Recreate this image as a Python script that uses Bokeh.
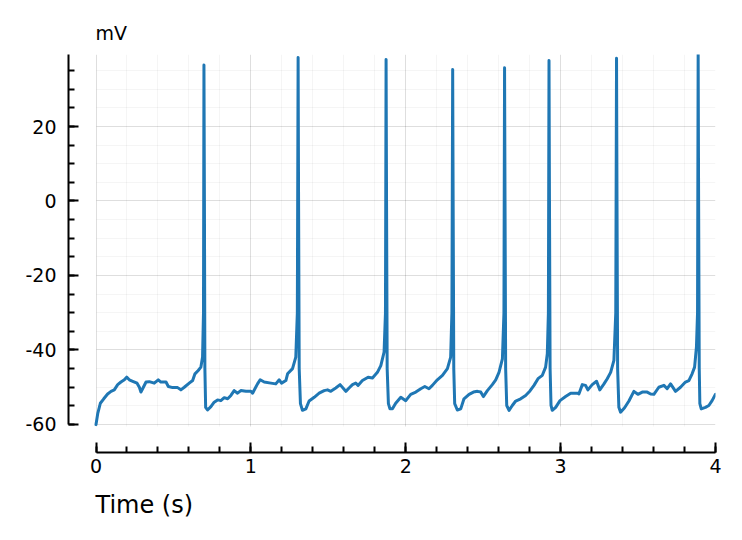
from bokeh.plotting import figure
from bokeh.models import SingleIntervalTicker, Title, Range1d, PrintfTickFormatter
from bokeh.embed import file_html
from bokeh.resources import INLINE

# Membrane potential trace (time in s, voltage in mV)
time_s = [
    0.000, 0.011, 0.028, 0.050, 0.075, 0.097, 0.118, 0.140, 0.161, 0.183,
    0.198, 0.215, 0.237, 0.265, 0.280, 0.290, 0.301, 0.323, 0.344, 0.376,
    0.402, 0.419, 0.452, 0.467, 0.495, 0.527, 0.548, 0.570, 0.602, 0.624,
    0.639, 0.660, 0.677, 0.688, 0.694, 0.697, 0.700, 0.703,
    0.708, 0.720, 0.742, 0.763, 0.785, 0.806, 0.828, 0.850, 0.871, 0.892,
    0.914, 0.935, 0.968, 1.000, 1.011, 1.043, 1.060, 1.086, 1.129, 1.161,
    1.183, 1.198, 1.226, 1.237, 1.269, 1.290, 1.300, 1.305, 1.308, 1.312,
    1.320, 1.333, 1.355, 1.376, 1.409, 1.441, 1.473, 1.495, 1.516, 1.548,
    1.576, 1.613, 1.634, 1.656, 1.677, 1.692, 1.720, 1.757, 1.785, 1.817,
    1.839, 1.860, 1.869, 1.873, 1.876, 1.880,
    1.888, 1.898, 1.914, 1.935, 1.968, 2.000, 2.032, 2.065, 2.097, 2.123,
    2.150, 2.172, 2.204, 2.237, 2.269, 2.290, 2.298, 2.303, 2.306, 2.310,
    2.316, 2.333, 2.355, 2.376, 2.409, 2.437, 2.463, 2.484, 2.501, 2.527,
    2.559, 2.581, 2.602, 2.624, 2.634, 2.638, 2.641, 2.645,
    2.652, 2.667, 2.688, 2.710, 2.742, 2.774, 2.802, 2.828, 2.854, 2.882,
    2.903, 2.914, 2.921, 2.925, 2.928, 2.932,
    2.938, 2.946, 2.968, 2.996, 3.032, 3.065, 3.108, 3.118, 3.140, 3.161,
    3.176, 3.204, 3.232, 3.253, 3.280, 3.301, 3.323, 3.344, 3.356, 3.361,
    3.364, 3.368,
    3.376, 3.387, 3.413, 3.441, 3.473, 3.499, 3.527, 3.559, 3.581, 3.602,
    3.634, 3.667, 3.688, 3.710, 3.742, 3.774, 3.806, 3.828, 3.849, 3.865,
    3.877, 3.884, 3.888, 3.891, 3.895,
    3.899, 3.908, 3.935, 3.957, 3.978, 4.000,
]
voltage_mv = [
    -60.0, -57.1, -54.3, -53.1, -51.8, -51.1, -50.7, -49.3, -48.6, -48.0,
    -47.3, -48.0, -48.4, -48.9, -50.0, -51.3, -50.4, -48.6, -48.5, -48.9,
    -48.0, -48.6, -48.6, -49.8, -50.1, -50.1, -50.7, -50.0, -48.9, -48.2,
    -46.4, -45.5, -44.6, -41.9, -30.0, 36.5, 0.0, -45.0,
    -55.4, -56.1, -55.2, -54.0, -53.4, -53.6, -52.8, -53.1, -52.2, -50.9,
    -51.6, -50.9, -51.1, -51.1, -51.6, -49.1, -48.0, -48.6, -48.9, -49.1,
    -48.0, -48.9, -48.2, -46.4, -45.0, -41.9, -30.0, 38.5, 0.0, -45.0,
    -54.4, -56.2, -55.8, -53.7, -52.7, -51.6, -50.9, -50.7, -51.1, -50.2,
    -49.3, -51.1, -50.2, -49.3, -48.9, -49.5, -48.2, -47.3, -47.5, -46.0,
    -44.2, -40.6, -30.0, 38.0, 0.0, -45.0,
    -54.4, -55.8, -55.8, -54.3, -52.7, -53.6, -51.9, -51.3, -50.4, -49.8,
    -50.4, -49.5, -48.0, -46.8, -45.0, -41.9, -30.0, 35.3, 0.0, -45.0,
    -54.4, -56.1, -55.8, -53.1, -51.9, -51.3, -51.1, -51.3, -52.5, -50.9,
    -49.3, -48.0, -46.0, -42.4, -30.0, 35.8, 0.0, -45.0,
    -54.9, -56.2, -54.9, -53.7, -53.1, -52.2, -51.0, -49.5, -47.7, -46.8,
    -44.6, -41.0, -30.0, 37.7, 0.0, -45.0,
    -54.9, -56.2, -55.4, -53.6, -52.5, -51.6, -51.6, -51.8, -49.3, -49.5,
    -50.7, -49.3, -48.4, -50.7, -49.1, -47.7, -46.0, -42.8, -30.0, 38.3,
    0.0, -45.0,
    -55.4, -56.7, -55.5, -53.7, -51.1, -51.9, -51.3, -51.3, -51.8, -51.9,
    -50.0, -49.5, -50.4, -49.1, -51.1, -50.0, -48.6, -48.2, -46.4, -44.6,
    -39.2, -30.0, 39.4, 0.0, -45.0,
    -54.4, -55.8, -55.4, -54.9, -53.6, -51.9,
]

x_label = "Time (s)"
y_label = "mV"
FONT = "DejaVu Sans"

p = figure(
    width=742, height=540,
    output_backend="svg", toolbar_location=None,
    x_range=Range1d(-0.1776, 4.0), y_range=Range1d(-67.52, 39.33),
    min_border_left=68, min_border_right=27,
    min_border_top=54, min_border_bottom=88,
    title=y_label,
)
p.outline_line_color = None
p.background_fill_color = "white"
p.border_fill_color = "white"

p.title.text_font = FONT
p.title.text_font_size = "19px"
p.title.text_font_style = "normal"
p.title.align = "left"
p.title.offset = 27
p.title.standoff = 22
p.title.text_color = "black"

p.add_layout(Title(text=x_label, align="left", offset=27, text_font=FONT,
                   text_font_size="24px", text_font_style="normal",
                   standoff=27, text_color="black"), "below")

p.xaxis.ticker = SingleIntervalTicker(interval=1, num_minor_ticks=5)
p.yaxis.ticker = SingleIntervalTicker(interval=20, num_minor_ticks=4)
p.xaxis.bounds = (0, 4)
p.yaxis.bounds = (-60, 39.33)

for ax in (p.xaxis, p.yaxis):
    ax.formatter = PrintfTickFormatter(format="%d")
    ax.axis_line_width = 2
    ax.axis_line_color = "black"
    ax.major_tick_in = 10
    ax.major_tick_out = 0
    ax.minor_tick_in = 6
    ax.minor_tick_out = 0
    ax.major_tick_line_width = 2
    ax.minor_tick_line_width = 2
    ax.major_tick_line_color = "black"
    ax.minor_tick_line_color = "black"
    ax.major_label_text_font = FONT
    ax.major_label_text_font_size = "19px"
    ax.major_label_text_color = "black"
p.xaxis.major_label_standoff = 6
p.yaxis.major_label_standoff = 12

for g in (p.xgrid, p.ygrid):
    g.grid_line_color = "black"
    g.grid_line_alpha = 0.09
    g.minor_grid_line_color = "black"
    g.minor_grid_line_alpha = 0.04
p.xgrid.cross_bounds = (-60.6, 39.33)
p.ygrid.cross_bounds = (0, 4)

p.line(time_s, voltage_mv, line_color="#1f77b4", line_width=3,
       line_join="round", line_cap="round")

open("out.html", "w").write(file_html(p, INLINE))
